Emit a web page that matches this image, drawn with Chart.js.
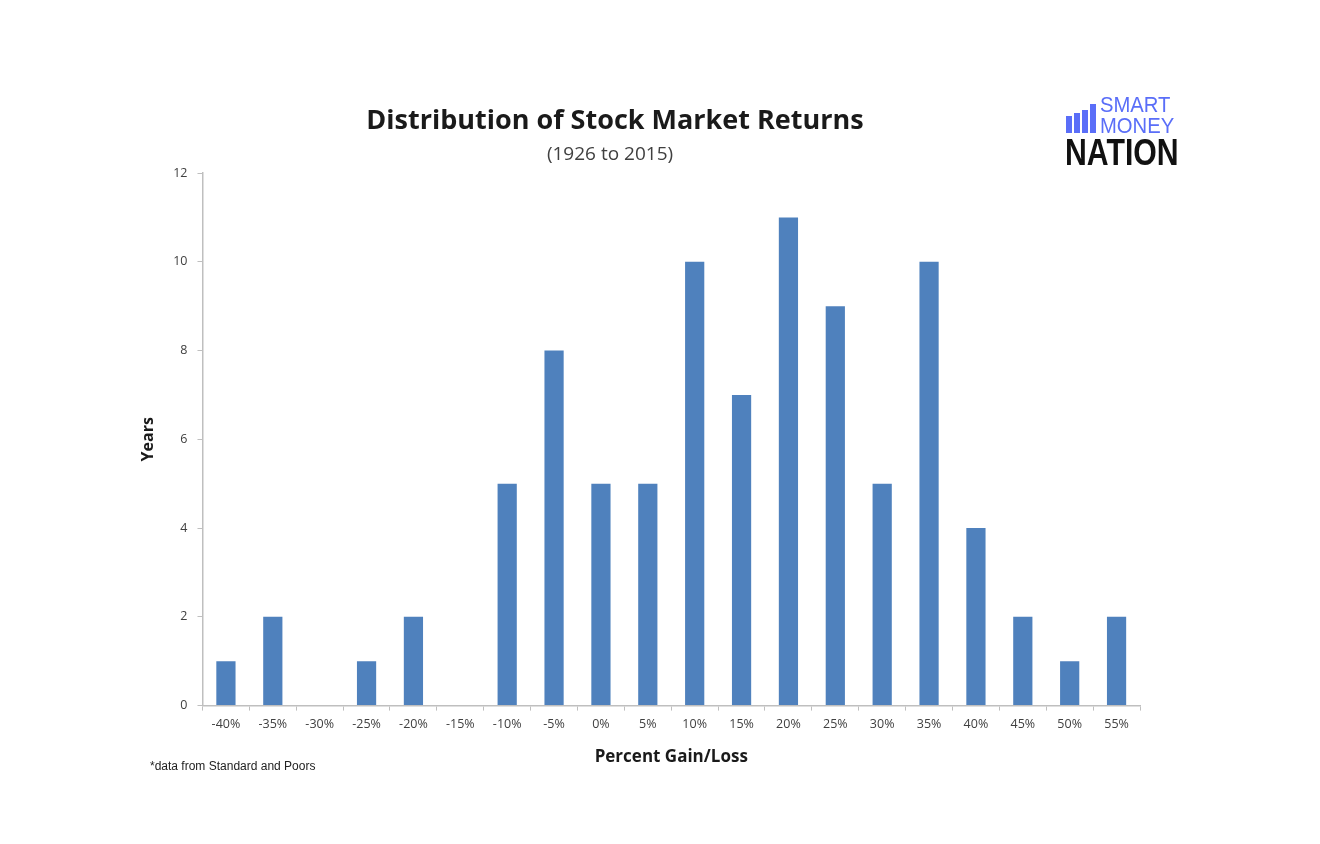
<!DOCTYPE html>
<html>
<head>
<meta charset="utf-8">
<title>Distribution of Stock Market Returns</title>
<script src="https://cdn.jsdelivr.net/npm/chart.js@4/dist/chart.umd.min.js"></script>
<style>
  html, body { margin: 0; padding: 0; background: #fff; }
  #wrap { width: 1320px; height: 844px; position: relative; }
</style>
</head>
<body>
<div id="wrap"><canvas id="chart" width="1320" height="844"></canvas></div>
<script>
// data (years per return bucket, 1926-2015)
const categories = ['-40%', '-35%', '-30%', '-25%', '-20%', '-15%', '-10%', '-5%', '0%', '5%',
                    '10%', '15%', '20%', '25%', '30%', '35%', '40%', '45%', '50%', '55%'];
const years = [1, 2, 0, 1, 2, 0, 5, 8, 5, 5, 10, 7, 11, 9, 5, 10, 4, 2, 1, 2];
const yTicks = [0, 2, 4, 6, 8, 10, 12];

const titleText = 'Distribution of Stock Market Returns';
const subtitleText = '(1926 to 2015)';
const footnoteText = '*data from Standard and Poors';

const FONT = "'Open Sans', 'Liberation Sans', sans-serif";
const axisGray = '#bfbfbf';

// title, footnote and logo drawn on the canvas
const decorations = {
    id: 'decorations',
    afterDraw(chart) {
        const ctx = chart.ctx;
        ctx.save();
        ctx.fillStyle = '#1a1a1a';
        ctx.textAlign = 'center';
        ctx.textBaseline = 'middle';
        ctx.font = 'bold 27px ' + FONT;
        ctx.fillText(titleText, 615, 121);
        ctx.fillStyle = '#404040';
        ctx.font = '19px ' + FONT;
        ctx.fillText(subtitleText, 610, 155);

        ctx.textAlign = 'left';
        ctx.fillStyle = '#222';
        ctx.font = '12px "Liberation Sans", Arial, sans-serif';
        ctx.fillText(footnoteText, 150, 767);

        // logo
        const blue = '#5a6ef8';
        ctx.fillStyle = blue;
        const bars = [[1066, 116], [1074, 113], [1082, 110], [1090, 104]];
        bars.forEach(([x, top]) => ctx.fillRect(x, top, 6, 133 - top));
        ctx.textBaseline = 'alphabetic';
        ctx.save();
        ctx.translate(1100, 0);
        ctx.scale(0.92, 1);
        ctx.font = '22px "Liberation Sans", sans-serif';
        ctx.fillText('SMART', 0, 112);
        ctx.fillText('MONEY', 0, 133);
        ctx.restore();
        ctx.save();
        ctx.translate(1065, 0);
        ctx.scale(0.84, 1);
        ctx.fillStyle = '#111';
        ctx.font = 'bold 36px "Liberation Sans", sans-serif';
        ctx.fillText('NATION', 0, 165);
        ctx.restore();
        ctx.restore();
    }
};

new Chart(document.getElementById('chart'), {
    type: 'bar',
    data: {
        labels: categories,
        datasets: [{
            label: 'Years',
            data: years,
            backgroundColor: '#4f81bd',
            borderWidth: 0,
            barPercentage: 0.82,
            categoryPercentage: 0.5
        }]
    },
    options: {
        responsive: false,
        animation: false,
        layout: { padding: { left: 139, right: 180, top: 173, bottom: 77 } },
        plugins: {
            legend: { display: false },
            tooltip: { enabled: false }
        },
        scales: {
            x: {
                grid: { drawOnChartArea: false, drawTicks: true, tickLength: 5, color: axisGray },
                border: { display: true, color: axisGray, width: 1.5 },
                ticks: { color: '#404040', font: { family: FONT, size: 12.5 }, padding: 6, maxRotation: 0, autoSkip: false },
                title: { display: true, text: 'Percent Gain/Loss', color: '#1a1a1a',
                         font: { family: FONT, size: 17, weight: 'bold' }, padding: { top: 9, bottom: 0 } }
            },
            y: {
                min: 0,
                max: 12,
                afterBuildTicks(scale) { scale.ticks = yTicks.map(v => ({ value: v })); },
                grid: { drawOnChartArea: false, drawTicks: true, tickLength: 5, color: axisGray },
                border: { display: true, color: axisGray, width: 1.5 },
                ticks: { color: '#404040', font: { family: FONT, size: 12.5 }, padding: 10 },
                title: { display: true, text: 'Years', color: '#1a1a1a',
                         font: { family: FONT, size: 16, weight: 'bold' }, padding: { top: 0, bottom: 5 } }
            }
        }
    },
    plugins: [decorations]
});
</script>
</body>
</html>
